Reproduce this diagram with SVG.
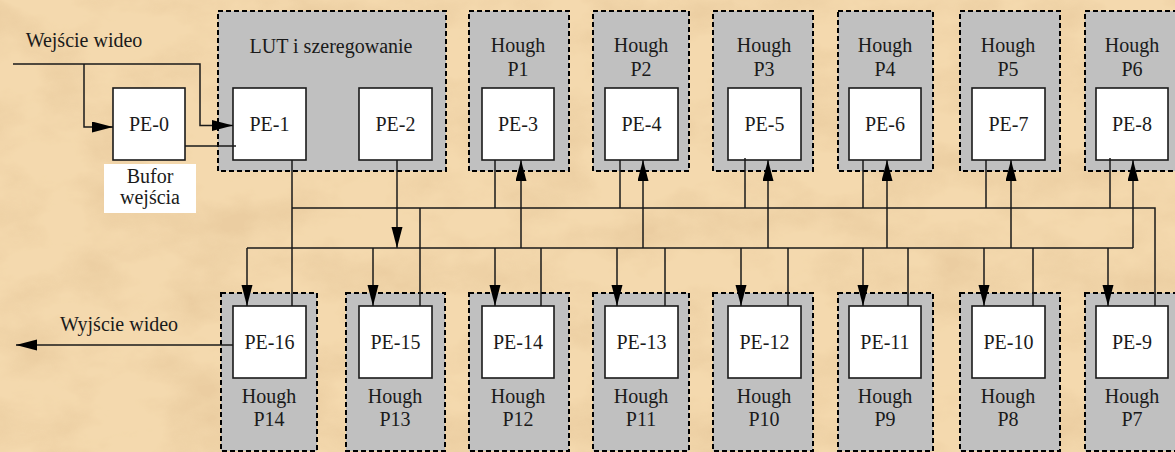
<svg xmlns="http://www.w3.org/2000/svg" width="1175" height="452" viewBox="0 0 1175 452">
<defs>
<style>
.t{font-family:'Liberation Serif','Times New Roman',serif;font-size:20px;fill:#1a1a1a;text-anchor:middle}
.grp{fill:#c0c0c0;stroke:#000;stroke-width:2;stroke-dasharray:5 3}
.pe{fill:#fff;stroke:#1a1a1a;stroke-width:1.6}
.c{fill:none;stroke:#1a1a1a;stroke-width:1.5}
.a{marker-end:url(#ah)}
</style>
<marker id="ah" markerUnits="userSpaceOnUse" markerWidth="22" markerHeight="12" refX="21" refY="5.5" orient="auto" viewBox="0 0 22 12">
<path d="M0,0 L21,5.5 L0,11 Z" fill="#000"/>
</marker>
<filter id="tex" x="0" y="0" width="100%" height="100%">
<feTurbulence type="fractalNoise" baseFrequency="0.012 0.02" numOctaves="5" seed="7" result="n"/>
<feColorMatrix in="n" type="matrix" values="0 0 0 0 0.80  0 0 0 0 0.58  0 0 0 0 0.33  0 0 0 -2.4 1.45"/>
</filter>
</defs>
<rect width="1175" height="452" fill="#f4d9ae"/>
<rect width="1175" height="452" filter="url(#tex)" opacity="0.65"/>

<g id="lut">
<rect class="grp" x="218" y="11" width="228" height="160"/>
<text class="t" x="331" y="53">LUT i szeregowanie</text>
</g>
<g id="hough-p1"><rect class="grp" x="469" y="11" width="100" height="160"/><text class="t" x="518" y="52">Hough</text><text class="t" x="518" y="76">P1</text></g>
<g id="hough-p2"><rect class="grp" x="593" y="11" width="96" height="160"/><text class="t" x="641" y="52">Hough</text><text class="t" x="641" y="76">P2</text></g>
<g id="hough-p3"><rect class="grp" x="713" y="11" width="100" height="160"/><text class="t" x="764" y="52">Hough</text><text class="t" x="764" y="76">P3</text></g>
<g id="hough-p4"><rect class="grp" x="838" y="11" width="95" height="160"/><text class="t" x="885" y="52">Hough</text><text class="t" x="885" y="76">P4</text></g>
<g id="hough-p5"><rect class="grp" x="960" y="11" width="100" height="160"/><text class="t" x="1008" y="52">Hough</text><text class="t" x="1008" y="76">P5</text></g>
<g id="hough-p6"><rect class="grp" x="1085" y="11" width="100" height="160"/><text class="t" x="1132" y="52">Hough</text><text class="t" x="1132" y="76">P6</text></g>

<g id="hough-p14"><rect class="grp" x="221" y="293" width="96" height="158"/><text class="t" x="269" y="403">Hough</text><text class="t" x="269" y="426">P14</text></g>
<g id="hough-p13"><rect class="grp" x="346" y="293" width="99" height="158"/><text class="t" x="395" y="403">Hough</text><text class="t" x="395" y="426">P13</text></g>
<g id="hough-p12"><rect class="grp" x="469" y="293" width="100" height="158"/><text class="t" x="518" y="403">Hough</text><text class="t" x="518" y="426">P12</text></g>
<g id="hough-p11"><rect class="grp" x="593" y="293" width="96" height="158"/><text class="t" x="641" y="403">Hough</text><text class="t" x="641" y="426">P11</text></g>
<g id="hough-p10"><rect class="grp" x="713" y="293" width="100" height="158"/><text class="t" x="764" y="403">Hough</text><text class="t" x="764" y="426">P10</text></g>
<g id="hough-p9"><rect class="grp" x="838" y="293" width="95" height="158"/><text class="t" x="885" y="403">Hough</text><text class="t" x="885" y="426">P9</text></g>
<g id="hough-p8"><rect class="grp" x="960" y="293" width="100" height="158"/><text class="t" x="1008" y="403">Hough</text><text class="t" x="1008" y="426">P8</text></g>
<g id="hough-p7"><rect class="grp" x="1085" y="293" width="100" height="158"/><text class="t" x="1132" y="403">Hough</text><text class="t" x="1132" y="426">P7</text></g>

<g id="bufor">
<rect x="104" y="164" width="92" height="49" fill="#fff"/>
<text class="t" x="150" y="183">Bufor</text>
<text class="t" x="150" y="204">wejścia</text>
</g>
<g id="label-in"><text class="t" x="84" y="47">Wejście wideo</text></g>
<g id="label-out"><text class="t" x="119" y="331">Wyjście wideo</text></g>

<g id="pe-0"><rect class="pe" x="113" y="88" width="72" height="72"/><text class="t" x="149" y="131">PE-0</text></g>
<g id="pe-1"><rect class="pe" x="233" y="88" width="73" height="72"/><text class="t" x="269.5" y="131">PE-1</text></g>
<g id="pe-2"><rect class="pe" x="359" y="88" width="73" height="72"/><text class="t" x="395.5" y="131">PE-2</text></g>
<g id="pe-3"><rect class="pe" x="482" y="88" width="72" height="72"/><text class="t" x="518" y="131">PE-3</text></g>
<g id="pe-4"><rect class="pe" x="605" y="88" width="73" height="72"/><text class="t" x="641.5" y="131">PE-4</text></g>
<g id="pe-5"><rect class="pe" x="728" y="88" width="73" height="72"/><text class="t" x="764.5" y="131">PE-5</text></g>
<g id="pe-6"><rect class="pe" x="849" y="88" width="72" height="72"/><text class="t" x="885" y="131">PE-6</text></g>
<g id="pe-7"><rect class="pe" x="972" y="88" width="73" height="72"/><text class="t" x="1008.5" y="131">PE-7</text></g>
<g id="pe-8"><rect class="pe" x="1096" y="88" width="72" height="72"/><text class="t" x="1132" y="131">PE-8</text></g>

<g id="pe-16"><rect class="pe" x="233" y="306" width="73" height="72"/><text class="t" x="269.5" y="349">PE-16</text></g>
<g id="pe-15"><rect class="pe" x="359" y="306" width="73" height="72"/><text class="t" x="395.5" y="349">PE-15</text></g>
<g id="pe-14"><rect class="pe" x="482" y="306" width="72" height="72"/><text class="t" x="518" y="349">PE-14</text></g>
<g id="pe-13"><rect class="pe" x="605" y="306" width="73" height="72"/><text class="t" x="641.5" y="349">PE-13</text></g>
<g id="pe-12"><rect class="pe" x="728" y="306" width="73" height="72"/><text class="t" x="764.5" y="349">PE-12</text></g>
<g id="pe-11"><rect class="pe" x="849" y="306" width="72" height="72"/><text class="t" x="885" y="349">PE-11</text></g>
<g id="pe-10"><rect class="pe" x="972" y="306" width="73" height="72"/><text class="t" x="1008.5" y="349">PE-10</text></g>
<g id="pe-9"><rect class="pe" x="1096" y="306" width="72" height="72"/><text class="t" x="1132" y="349">PE-9</text></g>

<g id="connectors">
<polyline class="c a" points="13,64 200,64 200,125.5 233,125.5"/>
<polyline class="c a" points="84,64 84,127 113,127"/>
<line class="c" x1="185" y1="146" x2="236" y2="146"/>
<line class="c" x1="292" y1="160" x2="292" y2="306"/>
<polyline class="c" points="292,208 1155,208 1155,306"/>
<line class="c" x1="495" y1="160" x2="495" y2="208"/>
<line class="c" x1="620" y1="160" x2="620" y2="208"/>
<line class="c" x1="745" y1="158" x2="745" y2="208"/>
<line class="c" x1="863" y1="160" x2="863" y2="208"/>
<line class="c" x1="986" y1="160" x2="986" y2="208"/>
<line class="c" x1="1110" y1="158" x2="1110" y2="208"/>
<line class="c" x1="420" y1="306" x2="420" y2="208"/>
<line class="c a" x1="397" y1="160" x2="397" y2="248"/>
<line class="c" x1="247" y1="248" x2="1133" y2="248"/>
<line class="c a" x1="521" y1="248" x2="521" y2="160"/>
<line class="c a" x1="643" y1="248" x2="643" y2="160"/>
<line class="c a" x1="768" y1="248" x2="768" y2="160"/>
<line class="c a" x1="887" y1="248" x2="887" y2="160"/>
<line class="c a" x1="1011" y1="248" x2="1011" y2="160"/>
<line class="c a" x1="1133" y1="248" x2="1133" y2="160"/>
<line class="c a" x1="247" y1="248" x2="247" y2="306"/>
<line class="c a" x1="373" y1="248" x2="373" y2="306"/>
<line class="c a" x1="495" y1="248" x2="495" y2="306"/>
<line class="c a" x1="617" y1="248" x2="617" y2="306"/>
<line class="c a" x1="741" y1="248" x2="741" y2="306"/>
<line class="c a" x1="863" y1="248" x2="863" y2="306"/>
<line class="c a" x1="984" y1="248" x2="984" y2="306"/>
<line class="c a" x1="1108" y1="248" x2="1108" y2="306"/>
<line class="c" x1="541" y1="306" x2="541" y2="248"/>
<line class="c" x1="665" y1="306" x2="665" y2="248"/>
<line class="c" x1="788" y1="306" x2="788" y2="248"/>
<line class="c" x1="908" y1="306" x2="908" y2="248"/>
<line class="c" x1="1033" y1="306" x2="1033" y2="248"/>
<line class="c a" x1="233" y1="345" x2="16" y2="345"/>
</g>
</svg>
